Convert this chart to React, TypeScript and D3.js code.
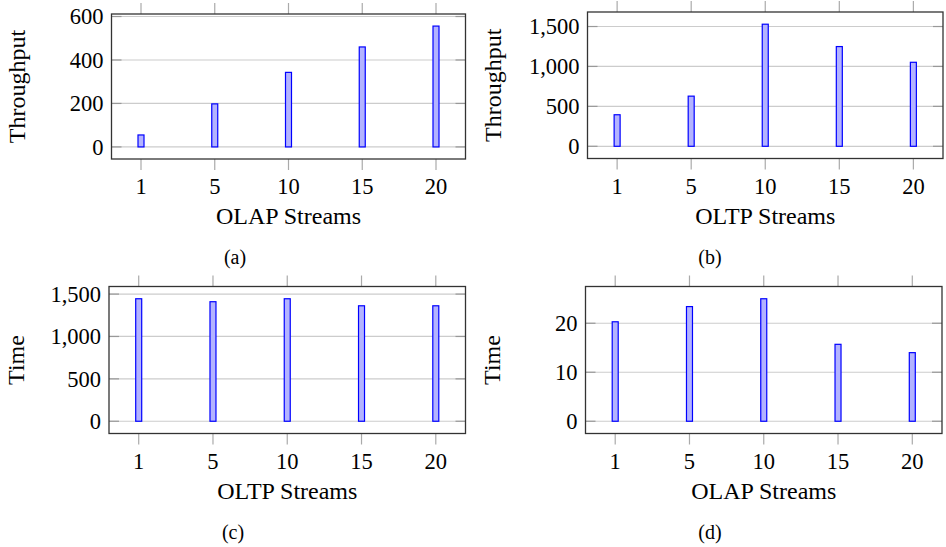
import React, { useEffect, useRef } from "react";
import * as d3 from "d3";

const streams = ["1", "5", "10", "15", "20"];
const olapThroughput = [55, 198, 343, 460, 556];
const oltpThroughput = [395, 628, 1529, 1249, 1052];
const oltpTime = [1445, 1410, 1445, 1362, 1362];
const olapTime = [20.3, 23.4, 25.0, 15.7, 14.0];

const ticksA = [0, 200, 400, 600];
const ticksB = [0, 500, 1000, 1500];
const ticksC = [0, 500, 1000, 1500];
const ticksD = [0, 10, 20];

const panels = [
  { values: olapThroughput, ticks: ticksA, xLabel: "OLAP Streams", yLabel: "Throughput", caption: "(a)", box: [111.5, 14, 465.5, 159], yLabelX: 17, capX: 235 },
  { values: oltpThroughput, ticks: ticksB, xLabel: "OLTP Streams", yLabel: "Throughput", caption: "(b)", box: [587.5, 12, 943, 158.5], yLabelX: 493, capX: 710 },
  { values: oltpTime, ticks: ticksC, xLabel: "OLTP Streams", yLabel: "Time", caption: "(c)", box: [109, 286.5, 465.5, 433.5], yLabelX: 16, capX: 233 },
  { values: olapTime, ticks: ticksD, xLabel: "OLAP Streams", yLabel: "Time", caption: "(d)", box: [585.5, 286.5, 942, 433.5], yLabelX: 492, capX: 710 },
];

const font = "'Liberation Serif', 'Times New Roman', serif";

export default function App() {
  const ref = useRef<SVGSVGElement>(null);

  useEffect(() => {
    const svg = d3.select(ref.current);
    svg.selectAll("*").remove();

    panels.forEach((p) => {
      const [x0, y0, x1, y1] = p.box;
      const max = d3.max(p.values) as number;
      const x = d3.scaleLinear().domain([-0.4, streams.length - 1 + 0.4]).range([x0, x1]);
      const y = d3.scaleLinear().domain([-0.1 * max, 1.1 * max]).range([y1, y0]);
      const g = svg.append("g");

      // horizontal grid
      g.selectAll(".grid")
        .data(p.ticks)
        .enter()
        .append("line")
        .attr("x1", x0)
        .attr("x2", x1)
        .attr("y1", (d) => y(d))
        .attr("y2", (d) => y(d))
        .attr("stroke", "#cccccc")
        .attr("stroke-width", 1.2);

      // y ticks inside, both sides
      [x0, x1].forEach((side, i) => {
        g.selectAll(".yt" + i)
          .data(p.ticks)
          .enter()
          .append("line")
          .attr("x1", side)
          .attr("x2", i === 0 ? side + 10 : side - 10)
          .attr("y1", (d) => y(d))
          .attr("y2", (d) => y(d))
          .attr("stroke", "#999999")
          .attr("stroke-width", 1.2);
      });

      // x ticks outside, top and bottom
      g.selectAll(".xtb")
        .data(streams)
        .enter()
        .append("line")
        .attr("x1", (d, i) => x(i))
        .attr("x2", (d, i) => x(i))
        .attr("y1", y1)
        .attr("y2", y1 + 11)
        .attr("stroke", "#aaaaaa")
        .attr("stroke-width", 1.2);
      g.selectAll(".xtt")
        .data(streams)
        .enter()
        .append("line")
        .attr("x1", (d, i) => x(i))
        .attr("x2", (d, i) => x(i))
        .attr("y1", y0)
        .attr("y2", y0 - 11)
        .attr("stroke", "#aaaaaa")
        .attr("stroke-width", 1.2);

      // bars
      g.selectAll(".bar")
        .data(p.values)
        .enter()
        .append("rect")
        .attr("x", (d, i) => x(i) - 3)
        .attr("width", 6)
        .attr("y", (d) => y(d))
        .attr("height", (d) => y(0) - y(d))
        .attr("fill", "#b3b3ff")
        .attr("stroke", "#0000ff")
        .attr("stroke-width", 1.2);

      // box
      g.append("rect")
        .attr("x", x0)
        .attr("y", y0)
        .attr("width", x1 - x0)
        .attr("height", y1 - y0)
        .attr("fill", "none")
        .attr("stroke", "#333333")
        .attr("stroke-width", 1.3);

      // tick labels
      g.selectAll(".ytl")
        .data(p.ticks)
        .enter()
        .append("text")
        .attr("x", x0 - 8)
        .attr("y", (d) => y(d))
        .attr("dy", "0.34em")
        .attr("text-anchor", "end")
        .attr("font-family", font)
        .attr("font-size", 22.5)
        .text((d) => d3.format(",")(d));

      g.selectAll(".xtl")
        .data(streams)
        .enter()
        .append("text")
        .attr("x", (d, i) => x(i))
        .attr("y", y1 + 35)
        .attr("text-anchor", "middle")
        .attr("font-family", font)
        .attr("font-size", 22.5)
        .text((d) => d);

      g.append("text")
        .attr("x", (x0 + x1) / 2)
        .attr("y", y1 + 65)
        .attr("text-anchor", "middle")
        .attr("font-family", font)
        .attr("font-size", 24)
        .text(p.xLabel);

      g.append("text")
        .attr("transform", `translate(${p.yLabelX + 8},${(y0 + y1) / 2}) rotate(-90)`)
        .attr("text-anchor", "middle")
        .attr("font-family", font)
        .attr("font-size", 24)
        .text(p.yLabel);

      g.append("text")
        .attr("x", p.capX)
        .attr("y", y1 + 105)
        .attr("text-anchor", "middle")
        .attr("font-family", font)
        .attr("font-size", 20)
        .text(p.caption);
    });
  }, []);

  return (
    <svg
      ref={ref}
      width={946}
      height={547}
      style={{ position: "absolute", left: 0, top: 0, background: "#fff" }}
    />
  );
}
